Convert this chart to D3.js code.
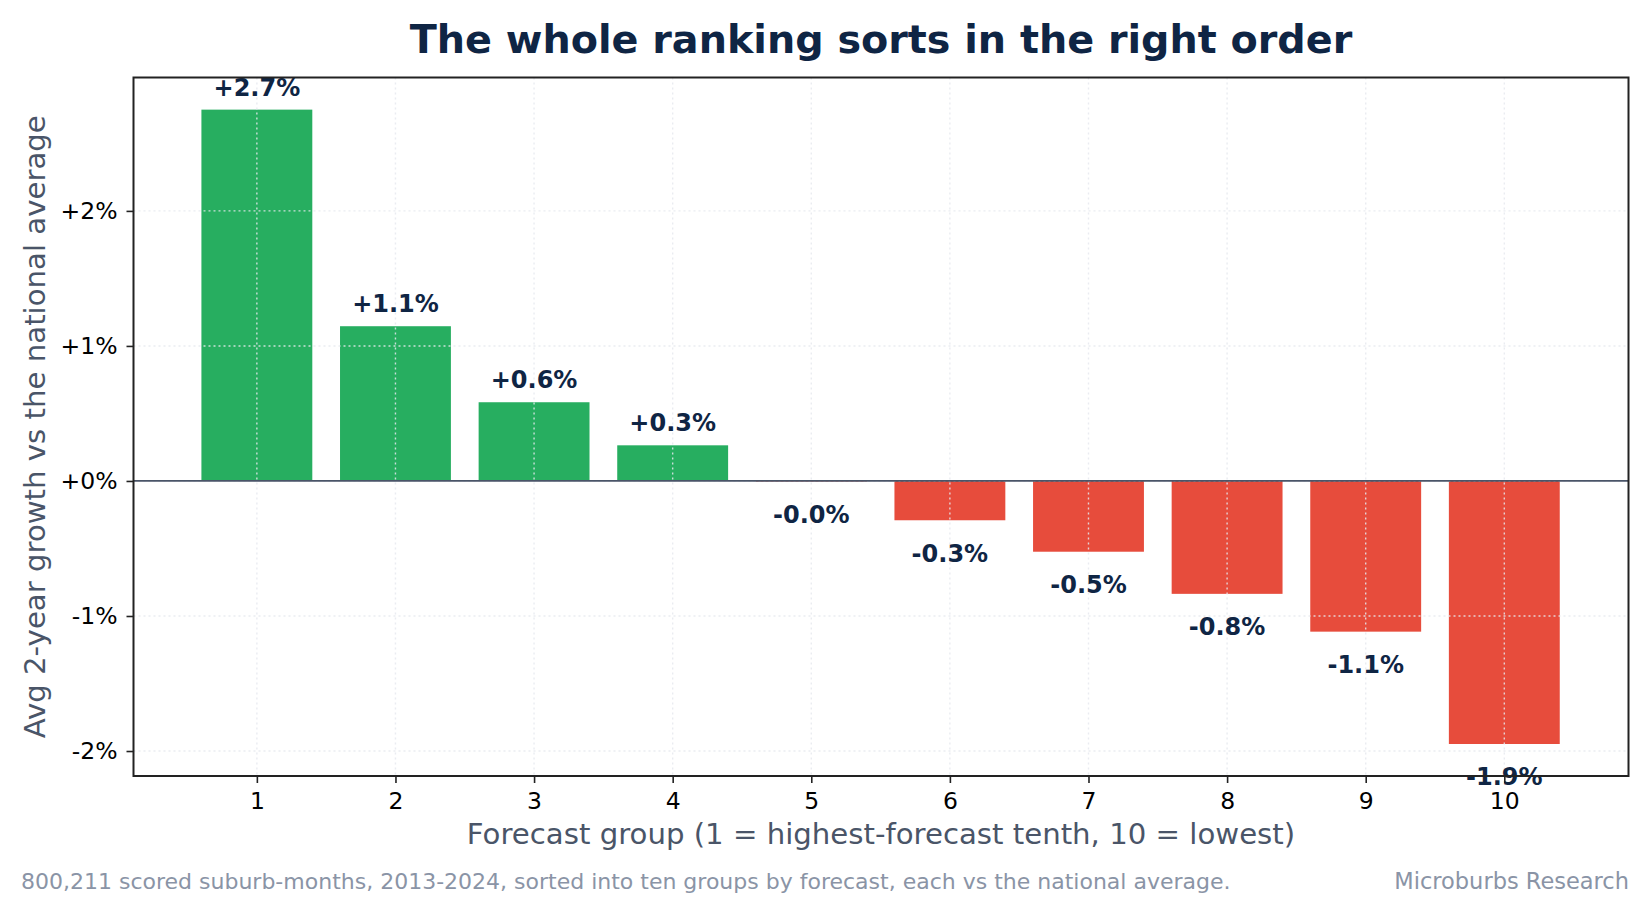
<!DOCTYPE html>
<html>
<head>
	<meta charset="utf-8">
	<title>ranking</title>
	<script src="https://d3js.org/d3.v7.min.js"></script>
	<style>
		body { margin: 0; background: #fff; }
		svg text { font-family: 'DejaVu Sans', sans-serif; }
	</style>
</head>
<body>
<script>
	// data
	var groups = [1, 2, 3, 4, 5, 6, 7, 8, 9, 10];
	var values = [2.75, 1.146, 0.583, 0.264, -0.004, -0.291, -0.524, -0.836, -1.116, -1.948];
	var labels = ['+2.7%', '+1.1%', '+0.6%', '+0.3%', '-0.0%', '-0.3%', '-0.5%', '-0.8%', '-1.1%', '-1.9%'];
	var yTicks = [-2, -1, 0, 1, 2];

	var w = 1650, h = 900;
	var plotL = 133.5, plotR = 1628.5, plotT = 77.5, plotB = 776;

	var svg = d3.select('body').append('svg')
		.attr('width', w)
		.attr('height', h);

	var x = d3.scaleLinear().domain([0.11, 10.896]).range([plotL, plotR]);
	var y = d3.scaleLinear().domain([-2.185, 2.988]).range([plotB, plotT]);
	var barW = x(1.8) - x(1);

	// bars
	svg.append('g')
		.selectAll('rect')
		.data(values)
		.enter()
		.append('rect')
		.attr('x', function (d, i) { return x(groups[i]) - barW / 2; })
		.attr('y', function (d) { return y(Math.max(0, d)); })
		.attr('width', barW)
		.attr('height', function (d) { return Math.abs(y(d) - y(0)); })
		.attr('fill', function (d) { return d >= 0 ? '#27ae60' : '#e74c3c'; });

	// grid on top of bars
	var grid = svg.append('g')
		.attr('stroke', '#e6e9ee')
		.attr('stroke-opacity', 0.85)
		.attr('stroke-dasharray', '2,3')
		.attr('stroke-width', 1.4);
	grid.selectAll('.gy').data(yTicks).enter().append('line')
		.attr('x1', plotL).attr('x2', plotR)
		.attr('y1', function (d) { return y(d); })
		.attr('y2', function (d) { return y(d); });
	grid.selectAll('.gx').data(groups).enter().append('line')
		.attr('y1', plotT).attr('y2', plotB)
		.attr('x1', function (d) { return x(d); })
		.attr('x2', function (d) { return x(d); });

	// zero line
	svg.append('line')
		.attr('x1', plotL).attr('x2', plotR)
		.attr('y1', y(0)).attr('y2', y(0))
		.attr('stroke', '#4a5568')
		.attr('stroke-width', 1.8);

	// value labels
	svg.append('g')
		.selectAll('text')
		.data(values)
		.enter()
		.append('text')
		.attr('x', function (d, i) { return x(groups[i]); })
		.attr('y', function (d) { return d >= 0 ? y(d) - 14 : y(d) + 41.5; })
		.attr('text-anchor', 'middle')
		.attr('font-size', 24)
		.attr('font-weight', 'bold')
		.attr('fill', '#0f2544')
		.text(function (d, i) { return labels[i]; });

	// axes
	var yAxis = svg.append('g')
		.attr('transform', 'translate(' + plotL + ',0)')
		.call(d3.axisLeft(y).tickValues(yTicks)
			.tickFormat(function (d) { return (d >= 0 ? '+' : '') + d + '%'; })
			.tickSize(7).tickPadding(9));
	var xAxis = svg.append('g')
		.attr('transform', 'translate(0,' + plotB + ')')
		.call(d3.axisBottom(x).tickValues(groups).tickFormat(d3.format('d'))
			.tickSize(7).tickPadding(9));
	[xAxis, yAxis].forEach(function (a) {
		a.select('.domain').remove();
		a.selectAll('.tick line').attr('stroke', '#222').attr('stroke-width', 1.6);
		a.selectAll('.tick text').attr('font-size', 23.5).attr('fill', '#000')
			.attr('font-family', 'DejaVu Sans');
	});

	// frame
	svg.append('rect')
		.attr('x', plotL).attr('y', plotT)
		.attr('width', plotR - plotL).attr('height', plotB - plotT)
		.attr('fill', 'none')
		.attr('stroke', '#222')
		.attr('stroke-width', 2);

	// titles
	svg.append('text')
		.attr('x', (plotL + plotR) / 2).attr('y', 52.5)
		.attr('text-anchor', 'middle')
		.attr('font-size', 39.7).attr('font-weight', 'bold')
		.attr('fill', '#0f2544')
		.text('The whole ranking sorts in the right order');

	svg.append('text')
		.attr('x', (plotL + plotR) / 2).attr('y', 844)
		.attr('text-anchor', 'middle')
		.attr('font-size', 29.2)
		.attr('fill', '#4a5568')
		.text('Forecast group (1 = highest-forecast tenth, 10 = lowest)');

	svg.append('text')
		.attr('transform', 'translate(45,' + (plotT + plotB) / 2 + ') rotate(-90)')
		.attr('text-anchor', 'middle')
		.attr('font-size', 29.2)
		.attr('fill', '#4a5568')
		.text('Avg 2-year growth vs the national average');

	svg.append('text')
		.attr('x', 21).attr('y', 889)
		.attr('font-size', 22)
		.attr('fill', '#8a94a6')
		.text('800,211 scored suburb-months, 2013-2024, sorted into ten groups by forecast, each vs the national average.');

	svg.append('text')
		.attr('x', 1629).attr('y', 889)
		.attr('text-anchor', 'end')
		.attr('font-size', 22.5)
		.attr('fill', '#8a94a6')
		.text('Microburbs Research');
</script>
</body>
</html>
